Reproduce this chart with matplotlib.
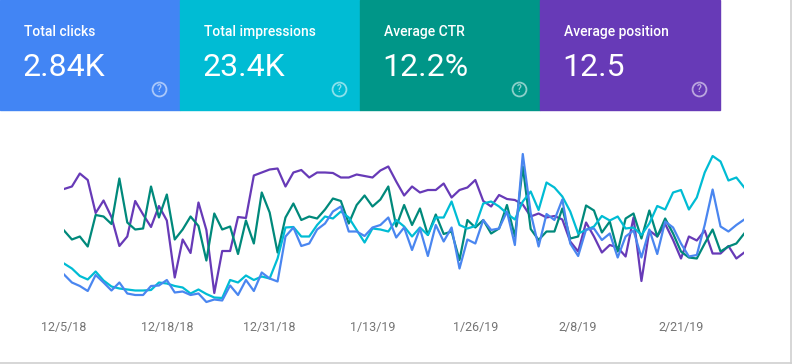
import matplotlib
matplotlib.use("Agg")
import matplotlib.pyplot as plt
from matplotlib.patches import Rectangle
from matplotlib.lines import Line2D

plt.rcParams["font.family"] = ["Roboto", "DejaVu Sans"]

# Daily series from 12/5/18 to 3/1/19 (87 days), each on its own relative scale
clicks = [35.5, 27.5, 24, 19, 35, 27.5, 19.5, 27.5, 16.5, 15, 15, 24, 24.5, 30, 17.5,
          18.5, 15, 16.5, 8, 10.5, 9.5, 24.5, 15, 30, 19, 37.5, 31.5, 28.5, 73.5, 82.5,
          64, 66.5, 80.5, 86.5, 98.5, 103.5, 78.5, 78.5, 74, 82.5, 85, 92.5, 72.5, 82.5,
          60, 81.5, 54, 85, 68.5, 82.5, 41.5, 70.5, 66.5, 90, 80, 81.5, 98.5, 65, 156,
          97, 63.5, 96, 90, 110.5, 66.5, 54, 80.5, 81.5, 70, 76.5, 52.5, 73.5, 79.5,
          52.5, 80.5, 56, 88.5, 82.5, 66.5, 53.5, 55, 85, 120.5, 83.5, 78.5, 85, 90.5]
impressions = [46.5, 41.5, 34, 30.5, 38.5, 29.5, 23.5, 21.5, 20.5, 19.5, 19.5, 20, 27.5,
               26.5, 24, 22.5, 16.5, 20.5, 16, 12.5, 12, 30, 27.5, 34.5, 30, 33.5, 31.5,
               51.5, 82.5, 83, 73.5, 73.5, 85, 93.5, 91.5, 98.5, 92.5, 80, 67.5, 81.5,
               80.5, 78.5, 90, 83.5, 73.5, 82.5, 75, 92.5, 92.5, 108.5, 85, 81.5, 84,
               106.5, 108.5, 103.5, 96.5, 90.5, 108.5, 118.5, 100, 127.5, 122.5, 113.5,
               98.5, 76.5, 80, 83.5, 94, 89.5, 93.5, 81.5, 82.5, 75, 86.5, 104, 100.5,
               117.5, 120, 100.5, 112.5, 137.5, 154, 148.5, 129.5, 132.5, 122.5]
ctr = [79.5, 70.5, 73.5, 63.5, 95, 93.5, 86, 131.5, 87.5, 80.5, 81.5, 123.5, 92.5, 115.5,
       70.5, 80.5, 93.5, 84, 49.5, 96.5, 80.5, 83.5, 56, 89.5, 66.5, 117.5, 97.5, 57.5,
       92.5, 106.5, 90, 93.5, 91.5, 100.5, 111.5, 109, 86.5, 105, 114.5, 103.5, 110.5,
       123.5, 83.5, 105, 85, 101.5, 75, 95.5, 76, 78.5, 50, 90, 82.5, 90, 76.5, 81.5,
       105, 73.5, 143.5, 81, 70, 78.5, 78.5, 101.5, 71.5, 73.5, 104.5, 99.5, 77.5, 88.5,
       58.5, 91.5, 96.5, 71.5, 99.5, 73.5, 91.5, 76.5, 58.5, 52.5, 51.5, 66.5, 80.5,
       58.5, 63.5, 66.5, 76.5]
position = [121, 123.5, 136.5, 130, 97, 109.5, 93, 64, 73.5, 109, 95.5, 83, 104, 89.5,
            32.5, 70.5, 57, 107.5, 80, 17, 59, 59, 93, 92, 134.5, 137.5, 140.5, 141.5,
            123.5, 137.5, 140, 132.5, 137.5, 137.5, 137, 132.5, 132.5, 135.5, 134, 132.5,
            139.5, 143.5, 128.5, 114.5, 123.5, 117.5, 120, 120, 126.5, 112.5, 120, 122.5,
            130, 109, 103.5, 115, 111, 110, 105.5, 93.5, 96.5, 92.5, 94, 90.5, 68.5, 58.5,
            87.5, 73.5, 57.5, 65, 62.5, 53.5, 92.5, 29, 79.5, 73.5, 86, 70, 51.5, 73.5,
            69.5, 79.5, 56.5, 56.5, 64, 51.5, 57.5]

tick_days = [0, 13, 26, 39, 52, 65, 78]
tick_labels = ["12/5/18", "12/18/18", "12/31/18", "1/13/19", "1/26/19", "2/8/19", "2/21/19"]

card_titles = ["Total clicks", "Total impressions", "Average CTR", "Average position"]
card_values = ["2.84K", "23.4K", "12.2%", "12.5"]
card_colors = ["#4285F4", "#00BCD4", "#009688", "#673AB7"]

W, H = 794, 364
fig = plt.figure(figsize=(W / 100, H / 100), dpi=100)
fig.patch.set_facecolor("white")


def fx(px):
    return px / W


def fy(py):
    return 1 - py / H


# metric cards across the top
for i, (title, value, color) in enumerate(zip(card_titles, card_values, card_colors)):
    x0 = 180 * i
    fig.patches.append(Rectangle((fx(x0), fy(110)), fx(180), 110 / H,
                                 transform=fig.transFigure, color=color, zorder=0))
    fig.text(fx(x0 + 24), fy(32), title, color="white", fontsize=10,
             fontweight="medium", va="center", ha="left")
    fig.text(fx(x0 + 22), fy(67), value, color="white", fontsize=23,
             va="center", ha="left")
    # help icon
    fig.lines.append(Line2D([fx(x0 + 159)], [fy(89)], transform=fig.transFigure,
                            marker="o", markersize=10, markerfacecolor="none",
                            markeredgecolor="white", markeredgewidth=1.3, alpha=0.55))
    fig.text(fx(x0 + 159), fy(89), "?", color="white", alpha=0.55, fontsize=7,
             fontweight="bold", ha="center", va="center")

# card outline on the right and bottom
fig.lines.append(Line2D([fx(791), fx(791)], [0, 1], transform=fig.transFigure,
                        color="#cfcfcf", linewidth=1.2))
fig.lines.append(Line2D([0, fx(791)], [fy(362.5), fy(362.5)], transform=fig.transFigure,
                        color="#cfcfcf", linewidth=1.2))

# line chart
left, right = 64, 64 + 86 * 7.91
ax = fig.add_axes([fx(left), fy(310), fx(right - left), 170 / H])
days = list(range(len(clicks)))
ax.plot(days, position, color="#673AB7", linewidth=1.6)
ax.plot(days, ctr, color="#00897B", linewidth=1.6)
ax.plot(days, impressions, color="#00BCD4", linewidth=1.6)
ax.plot(days, clicks, color="#4A86F0", linewidth=1.6)
ax.set_xlim(0, 86)
ax.set_ylim(0, 170)
ax.set_facecolor("none")
for s in ax.spines.values():
    s.set_visible(False)
ax.set_yticks([])
ax.set_xticks(tick_days)
ax.set_xticklabels(tick_labels, color="#757575", fontsize=9)
ax.tick_params(axis="x", length=0, pad=8)

fig.savefig("out.png", dpi=100)
